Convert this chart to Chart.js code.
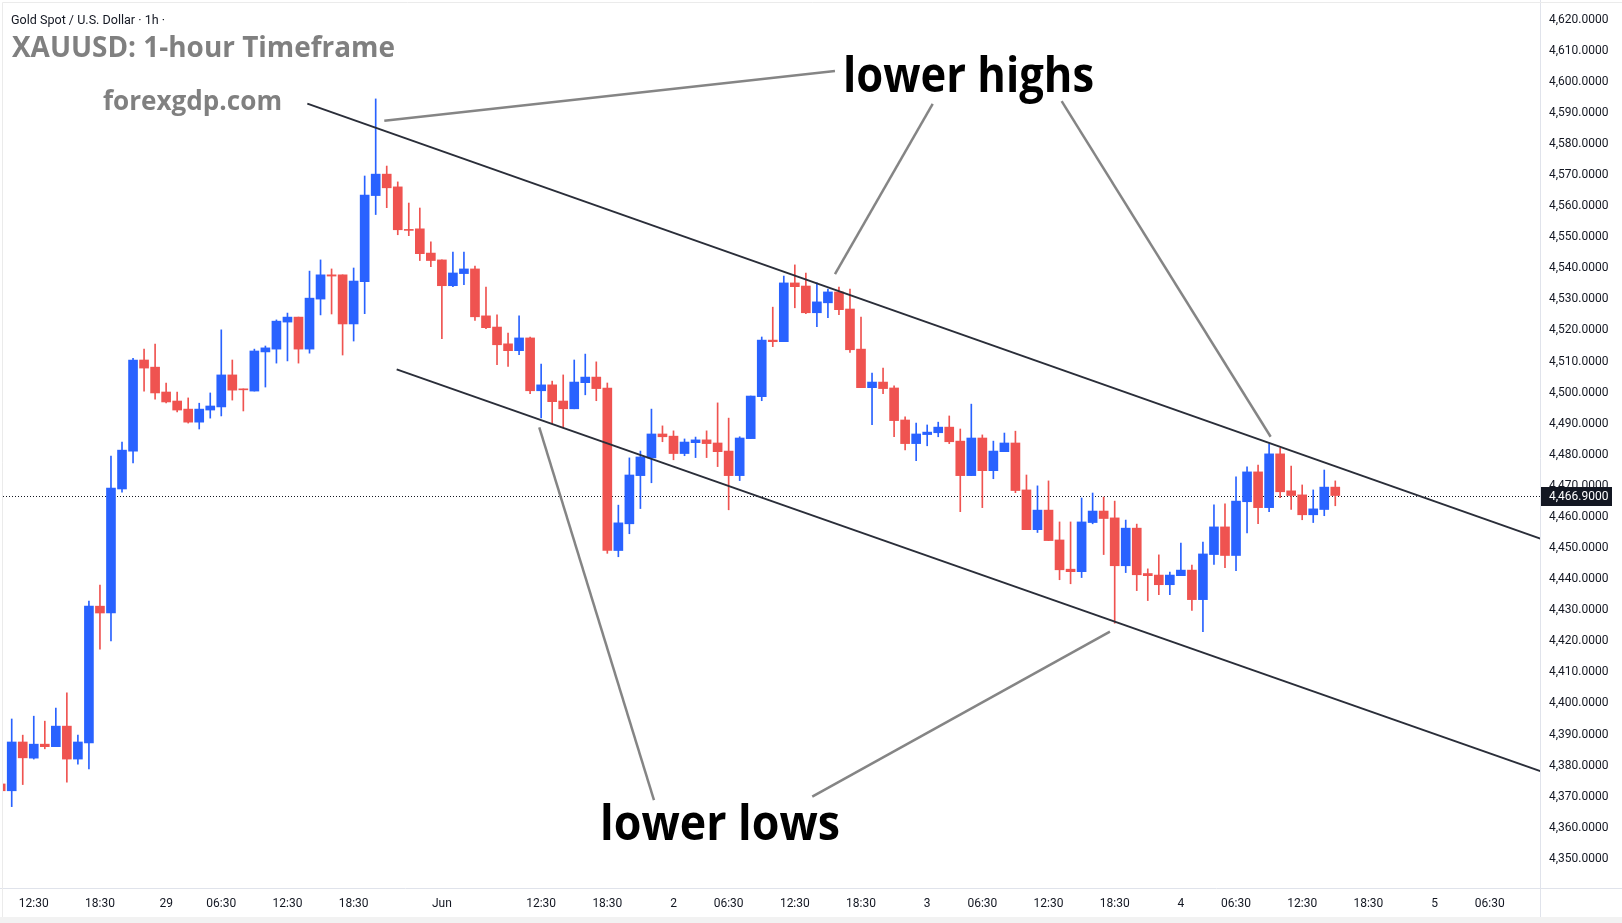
<!DOCTYPE html>
<html>
<head>
<meta charset="utf-8">
<title>XAUUSD 1-hour</title>
<script src="https://cdn.jsdelivr.net/npm/chart.js@4.4.1/dist/chart.umd.min.js"></script>
<style>
  html, body { margin: 0; padding: 0; background: #fff; }
  #chart { display: block; }
</style>
</head>
<body>
<canvas id="chart" width="1622" height="923"></canvas>
<script>
// 1h candles, bar index 0 = 28 May 10:30; the first one is cut by the left edge
const firstBar = -1;

const opens = [
  4374.1, 4371.9, 4387.6, 4382.4, 4386.9, 4386.1, 4392.7, 4382.1, 4387.3, 4431.3, 4429.1,
  4469.0, 4481.2, 4510.5, 4508.2, 4500.2, 4497.3, 4494.7, 4490.5, 4494.4, 4495.4,
  4505.7, 4501.2, 4500.5, 4513.1, 4514.0, 4522.7, 4524.3, 4514.0, 4530.1, 4537.9,
  4537.9, 4522.1, 4535.7, 4563.4, 4570.3, 4566.2, 4552.4, 4552.7, 4544.9, 4542.7,
  4534.4, 4538.3, 4539.8, 4524.7, 4521.1, 4515.7, 4513.5, 4517.6, 4500.6, 4502.5,
  4497.3, 4494.8, 4503.2, 4505.0, 4501.5, 4449.2, 4457.8, 4473.3, 4479.0, 4486.7,
  4486.0, 4480.4, 4483.9, 4484.8, 4483.8, 4481.2, 4473.3, 4485.2, 4498.7, 4516.9,
  4516.4, 4535.3, 4534.3, 4525.7, 4528.9, 4532.4, 4526.9, 4514.0, 4501.6, 4503.4,
  4501.5, 4491.2, 4483.6, 4486.5, 4487.1, 4488.9, 4484.4, 4473.3, 4485.4, 4474.9,
  4481.0, 4483.8, 4468.7, 4455.9, 4462.2, 4452.6, 4443.2, 4442.4, 4458.2, 4461.9,
  4459.7, 4444.3, 4456.4, 4441.8, 4441.3, 4438.2, 4441.1, 4442.9, 4433.4, 4447.9,
  4456.8, 4447.6, 4464.9, 4474.5, 4463.0, 4480.3, 4468.4, 4467.1, 4460.7, 4462.4,
  4469.6
];
const highs = [
  4375.5, 4395.0, 4389.8, 4395.9, 4394.3, 4398.5, 4403.4, 4389.8, 4432.9, 4438.1, 4479.6,
  4484.1, 4511.0, 4514.0, 4515.6, 4503.1, 4500.2, 4498.3, 4496.6, 4499.9, 4520.2,
  4510.5, 4501.2, 4514.0, 4515.0, 4523.4, 4525.6, 4524.3, 4539.1, 4542.7, 4539.8,
  4537.9, 4540.1, 4569.7, 4594.5, 4572.9, 4567.8, 4561.0, 4559.4, 4548.5, 4542.7,
  4545.2, 4545.2, 4540.7, 4534.0, 4525.0, 4519.2, 4524.7, 4517.9, 4509.2, 4503.7,
  4505.7, 4510.5, 4512.4, 4509.9, 4503.1, 4463.8, 4479.0, 4481.2, 4494.7, 4489.3,
  4487.7, 4485.1, 4485.7, 4487.7, 4496.7, 4491.8, 4485.8, 4498.9, 4517.9, 4527.5,
  4537.5, 4541.1, 4538.5, 4535.3, 4533.3, 4534.0, 4533.3, 4524.3, 4506.3, 4507.9,
  4502.2, 4492.2, 4490.2, 4489.6, 4490.5, 4492.5, 4488.3, 4496.3, 4486.4, 4484.4,
  4487.0, 4487.6, 4473.5, 4470.0, 4471.6, 4458.4, 4458.4, 4466.1, 4467.7, 4466.4,
  4465.1, 4459.0, 4457.7, 4443.3, 4447.8, 4442.3, 4451.6, 4444.5, 4451.9, 4463.9,
  4464.2, 4472.9, 4476.1, 4476.7, 4483.5, 4482.2, 4476.4, 4470.3, 4468.7, 4475.1,
  4471.6
];
const lows = [
  4371.0, 4366.8, 4373.9, 4382.1, 4385.4, 4386.1, 4374.7, 4380.5, 4378.9, 4417.5, 4420.1,
  4468.0, 4477.4, 4500.5, 4497.9, 4496.7, 4493.8, 4490.2, 4488.3, 4491.8, 4492.5,
  4497.6, 4494.1, 4500.5, 4501.8, 4509.5, 4510.2, 4509.5, 4512.7, 4525.0, 4525.3,
  4512.1, 4516.6, 4525.4, 4557.3, 4559.5, 4550.8, 4550.5, 4542.5, 4540.5, 4517.4,
  4534.1, 4534.7, 4523.2, 4520.6, 4509.0, 4508.4, 4512.2, 4499.7, 4491.9, 4490.1,
  4488.7, 4494.8, 4499.3, 4497.4, 4448.3, 4447.2, 4454.6, 4462.7, 4471.0, 4484.2,
  4478.4, 4479.7, 4479.1, 4479.1, 4476.2, 4462.3, 4471.7, 4485.2, 4497.4, 4514.8,
  4516.4, 4527.3, 4525.4, 4521.2, 4524.1, 4525.1, 4512.9, 4501.6, 4489.7, 4499.7,
  4485.8, 4481.6, 4478.1, 4482.9, 4485.8, 4483.6, 4461.7, 4473.3, 4463.0, 4472.3,
  4481.0, 4467.8, 4455.9, 4455.0, 4452.4, 4439.8, 4438.5, 4440.5, 4457.8, 4447.9,
  4425.8, 4442.1, 4436.3, 4433.1, 4435.0, 4435.0, 4441.1, 4429.9, 4423.1, 4444.7,
  4443.7, 4442.7, 4454.9, 4457.8, 4461.7, 4466.2, 4462.4, 4459.1, 4458.2, 4460.4,
  4463.6
];
const closes = [
  4371.9, 4387.6, 4382.5, 4386.9, 4386.1, 4392.7, 4382.1, 4387.6, 4431.3, 4429.1, 4469.3,
  4481.5, 4510.5, 4507.9, 4499.9, 4497.0, 4494.4, 4490.5, 4494.7, 4495.7, 4505.7,
  4500.8, 4500.9, 4513.4, 4514.4, 4523.0, 4524.3, 4514.0, 4530.4, 4537.9, 4537.5,
  4522.1, 4535.9, 4563.6, 4570.3, 4565.9, 4552.4, 4552.2, 4544.7, 4542.5, 4534.4,
  4538.5, 4539.8, 4524.4, 4520.9, 4515.4, 4513.5, 4517.6, 4500.6, 4502.5, 4497.1,
  4494.8, 4503.4, 4505.0, 4501.3, 4449.2, 4458.1, 4473.5, 4479.3, 4486.7, 4485.8,
  4480.4, 4484.1, 4484.8, 4483.6, 4481.0, 4473.3, 4485.4, 4498.9, 4516.9, 4516.4,
  4535.3, 4534.1, 4525.7, 4529.2, 4532.4, 4526.7, 4513.8, 4501.6, 4503.4, 4501.3,
  4491.0, 4483.6, 4486.7, 4487.3, 4488.9, 4484.2, 4473.3, 4485.4, 4474.9, 4481.2,
  4483.8, 4468.5, 4455.9, 4462.2, 4452.4, 4443.0, 4442.4, 4458.4, 4461.9, 4459.5,
  4444.3, 4456.4, 4441.4, 4441.1, 4438.2, 4441.3, 4442.9, 4433.4, 4448.1, 4456.8,
  4447.6, 4465.1, 4474.5, 4463.0, 4480.3, 4468.1, 4466.9, 4460.7, 4462.6, 4469.6,
  4466.9
];

// time axis labels: [bar index, text]
const timeTicks = [
  [2, '12:30'], [8, '18:30'], [14, '29'], [19, '06:30'], [25, '12:30'], [31, '18:30'],
  [39, 'Jun'], [48, '12:30'], [54, '18:30'], [60, '2'], [65, '06:30'], [71, '12:30'],
  [77, '18:30'], [83, '3'], [88, '06:30'], [94, '12:30'], [100, '18:30'], [106, '4'],
  [111, '06:30'], [117, '12:30'], [123, '18:30'], [129, '5'], [134, '06:30']
];
const priceTicks = [
  4350, 4360, 4370, 4380, 4390, 4400, 4410, 4420, 4430, 4440, 4450, 4460, 4470, 4480,
  4490, 4500, 4510, 4520, 4530, 4540, 4550, 4560, 4570, 4580, 4590, 4600, 4610, 4620
];

// drawings, in [bar index, price]
const channelUpper = [[26.8, 4593.0], [138.6, 4453.0]];
const channelLower = [[34.9, 4507.5], [138.6, 4378.2]];
const highPointers = [
  [[33.78, 4587.5], [74.64, 4603.5]],
  [[74.64, 4538.1], [83.5, 4592.9]],
  [[95.19, 4593.8], [114.14, 4485.8]]
];
const lowPointers = [
  [[47.83, 4488.8], [58.23, 4368.9]],
  [[99.57, 4423.1], [72.58, 4370.0]]
];
const callouts = [
  { text: 'lower highs', at: [75.37, 4596.8], width: 251 },
  { text: 'lower lows', at: [53.34, 4356.1], width: 240 }
];

const UP = '#2962ff';
const DOWN = '#ef5350';
const AXIS_LINE = '#e0e3eb';
const TEXT = '#131722';

const lastPrice = closes[closes.length - 1];
const barIndex = opens.map((_, k) => firstBar + k);
const barColors = opens.map((o, k) => (closes[k] >= o ? UP : DOWN));

const fmtPrice = (v) =>
  v.toLocaleString('en-US', { minimumFractionDigits: 4, maximumFractionDigits: 4 });

const toPoints = (seg) => seg.map(([x, y]) => ({ x, y }));

function fitText(ctx, text, x, y, width) {
  const w = ctx.measureText(text).width;
  ctx.save();
  ctx.translate(x, y);
  ctx.scale(width / w, 1);
  ctx.fillText(text, 0, 0);
  ctx.restore();
}

const pagePlugin = {
  id: 'page',
  beforeDraw(chart) {
    const { ctx, width, height } = chart;
    ctx.save();
    ctx.fillStyle = '#ffffff';
    ctx.fillRect(0, 0, width, height);
    ctx.restore();
  },
  beforeDatasetsDraw(chart) {
    // dotted last-price line sits behind the candles
    const { ctx, chartArea } = chart;
    const y = Math.round(chart.scales.y.getPixelForValue(lastPrice)) + 0.5;
    ctx.save();
    ctx.strokeStyle = TEXT;
    ctx.lineWidth = 1;
    ctx.setLineDash([1, 2]);
    ctx.beginPath();
    ctx.moveTo(chartArea.left, y);
    ctx.lineTo(chartArea.right, y);
    ctx.stroke();
    ctx.restore();
  },
  afterDraw(chart) {
    const { ctx, chartArea, width, height } = chart;
    const xs = chart.scales.x;
    const ys = chart.scales.y;
    ctx.save();

    // pane borders
    ctx.strokeStyle = AXIS_LINE;
    ctx.lineWidth = 1;
    ctx.beginPath();
    ctx.moveTo(0, chartArea.bottom + 0.5);
    ctx.lineTo(width, chartArea.bottom + 0.5);
    ctx.moveTo(chartArea.right + 0.5, 0);
    ctx.lineTo(chartArea.right + 0.5, height - 6);
    ctx.stroke();
    ctx.strokeStyle = '#ebebeb';
    ctx.beginPath();
    ctx.moveTo(2.5, 2.5);
    ctx.lineTo(width, 2.5);
    ctx.moveTo(2.5, 2.5);
    ctx.lineTo(2.5, height);
    ctx.stroke();
    ctx.fillStyle = '#f2f2f2';
    ctx.fillRect(0, height - 6, width, 6);

    // header
    ctx.fillStyle = TEXT;
    ctx.font = '12px Roboto';
    ctx.textBaseline = 'alphabetic';
    fitText(ctx, 'Gold Spot / U.S. Dollar · 1h ·', 11, 24, 154);
    ctx.fillStyle = '#808080';
    ctx.font = 'bold 28px "Open Sans"';
    fitText(ctx, 'XAUUSD: 1-hour Timeframe', 12, 57, 383);
    ctx.font = 'bold 26px "Open Sans"';
    fitText(ctx, 'forexgdp.com', 103, 110, 179);

    // callout words
    ctx.fillStyle = '#000000';
    ctx.font = 'bold 49px "Open Sans"';
    callouts.forEach((c) => {
      fitText(ctx, c.text, xs.getPixelForValue(c.at[0]), ys.getPixelForValue(c.at[1]), c.width);
    });

    // last price tag
    const py = ys.getPixelForValue(lastPrice);
    ctx.fillStyle = TEXT;
    ctx.fillRect(chartArea.right + 1, Math.round(py) - 9, 71, 19);
    ctx.fillStyle = '#ffffff';
    ctx.font = '12px Roboto';
    ctx.textBaseline = 'middle';
    ctx.fillText(fmtPrice(lastPrice), chartArea.right + 9, Math.round(py) + 1);
    ctx.restore();
  }
};

const lineSet = (seg, color, width) => ({
  type: 'line',
  data: toPoints(seg),
  borderColor: color,
  borderWidth: width,
  pointRadius: 0,
  tension: 0,
  order: 0
});

const ctx = document.getElementById('chart').getContext('2d');
new Chart(ctx, {
  type: 'bar',
  data: {
    datasets: [
      lineSet(channelUpper, '#2a2e39', 2),
      lineSet(channelLower, '#2a2e39', 2),
      ...highPointers.map((s) => lineSet(s, '#858585', 2.5)),
      ...lowPointers.map((s) => lineSet(s, '#858585', 2.5)),
      {
        // candle bodies
        type: 'bar',
        data: barIndex.map((x, k) => ({ x, y: [opens[k], closes[k]] })),
        backgroundColor: barColors,
        borderWidth: 0,
        barThickness: 9,
        minBarLength: 1,
        grouped: false,
        order: 1
      },
      {
        // wicks
        type: 'bar',
        data: barIndex.map((x, k) => ({ x, y: [lows[k], highs[k]] })),
        backgroundColor: barColors,
        borderWidth: 0,
        barThickness: 1,
        grouped: false,
        order: 2
      }
    ]
  },
  options: {
    responsive: false,
    animation: false,
    devicePixelRatio: 1,
    layout: { padding: { left: 3, top: 3, right: 0, bottom: 0 } },
    plugins: {
      legend: { display: false },
      tooltip: { enabled: false }
    },
    scales: {
      x: {
        type: 'linear',
        min: -0.79,
        max: 138.56,
        offset: false,
        grid: { display: false, drawTicks: false },
        border: { display: false },
        afterBuildTicks: (s) => {
          s.ticks = timeTicks.map(([v]) => ({ value: v }));
        },
        afterFit: (s) => {
          s.height = 35;
          s.paddingLeft = 0;
          s.paddingRight = 0;
        },
        ticks: {
          autoSkip: false,
          maxRotation: 0,
          padding: 9,
          color: TEXT,
          font: { family: 'Roboto', size: 12 },
          callback: (v) => {
            const t = timeTicks.find(([i]) => i === v);
            return t ? t[1] : '';
          }
        }
      },
      y: {
        position: 'right',
        min: 4340.62,
        max: 4625.36,
        grid: { display: false, drawTicks: false },
        border: { display: false },
        afterBuildTicks: (s) => {
          s.ticks = priceTicks.map((v) => ({ value: v }));
        },
        afterFit: (s) => {
          // the scale reserves half a label at both ends; the pane does not
          s.width = 82;
          s.paddingTop = 0;
          s.paddingBottom = 0;
        },
        ticks: {
          padding: 9,
          color: TEXT,
          font: { family: 'Roboto', size: 12 },
          callback: (v) => fmtPrice(v)
        }
      }
    }
  },
  plugins: [pagePlugin]
});
</script>
</body>
</html>
